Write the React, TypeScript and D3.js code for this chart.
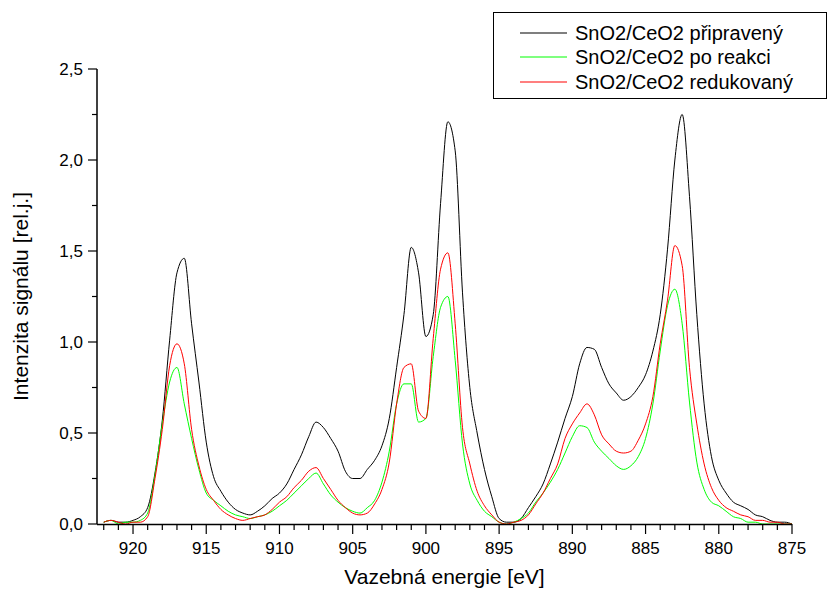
import React from 'react';
import * as d3 from 'd3';

// binding energy grid, 922 -> 875 eV in 0.5 eV steps
const energies: number[] = d3.range(0, 95).map(i => 922 - i * 0.5);

const pripraveny = [
  0.01, 0.02, 0.01, 0.01, 0.02, 0.04, 0.09, 0.28, 0.57, 1.01,
  1.38, 1.46, 1.10, 0.78, 0.45, 0.26, 0.18, 0.12, 0.08, 0.06,
  0.05, 0.07, 0.10, 0.14, 0.17, 0.22, 0.30, 0.38, 0.48, 0.56,
  0.53, 0.47, 0.40, 0.29, 0.25, 0.25, 0.30, 0.35, 0.43, 0.58,
  0.86, 1.15, 1.52, 1.38, 1.03, 1.15, 1.76, 2.21, 2.05, 1.27,
  0.75, 0.50, 0.30, 0.15, 0.03, 0.01, 0.01, 0.03, 0.09, 0.15,
  0.22, 0.33, 0.45, 0.58, 0.70, 0.88, 0.97, 0.96, 0.86, 0.77,
  0.72, 0.68, 0.70, 0.75, 0.82, 0.95, 1.15, 1.51, 2.00, 2.25,
  1.80, 1.15, 0.66, 0.37, 0.24, 0.17, 0.12, 0.10, 0.08, 0.05,
  0.04, 0.02, 0.01, 0.01, 0.00,
];

const poReakci = [
  0.01, 0.02, 0.00, 0.01, 0.01, 0.02, 0.06, 0.27, 0.55, 0.78,
  0.86, 0.66, 0.47, 0.30, 0.17, 0.13, 0.10, 0.07, 0.05, 0.04,
  0.03, 0.04, 0.05, 0.07, 0.10, 0.13, 0.17, 0.21, 0.25, 0.28,
  0.22, 0.16, 0.12, 0.09, 0.07, 0.06, 0.09, 0.13, 0.23, 0.40,
  0.66, 0.77, 0.77, 0.56, 0.58, 0.92, 1.19, 1.25, 0.90, 0.44,
  0.22, 0.13, 0.07, 0.04, 0.01, 0.00, 0.01, 0.03, 0.06, 0.12,
  0.17, 0.23, 0.30, 0.39, 0.48, 0.54, 0.53, 0.45, 0.40, 0.36,
  0.32, 0.30, 0.32, 0.37, 0.47, 0.66, 0.95, 1.20, 1.29, 1.10,
  0.67, 0.34, 0.19, 0.12, 0.10, 0.07, 0.04, 0.03, 0.01, 0.01,
  0.00, 0.00, 0.00, 0.00, 0.00,
];

const redukovany = [
  0.01, 0.02, 0.01, 0.00, 0.01, 0.01, 0.04, 0.25, 0.52, 0.87,
  0.99, 0.88, 0.52, 0.32, 0.19, 0.13, 0.08, 0.05, 0.03, 0.02,
  0.03, 0.04, 0.05, 0.08, 0.12, 0.15, 0.20, 0.24, 0.29, 0.31,
  0.25, 0.19, 0.13, 0.09, 0.06, 0.05, 0.06, 0.11, 0.19, 0.34,
  0.66, 0.86, 0.88, 0.62, 0.58, 1.02, 1.40, 1.49, 1.10, 0.53,
  0.33, 0.18, 0.10, 0.05, 0.01, 0.00, 0.01, 0.02, 0.05, 0.11,
  0.17, 0.25, 0.33, 0.47, 0.55, 0.61, 0.66, 0.60, 0.49, 0.44,
  0.40, 0.39, 0.40, 0.46, 0.55, 0.70, 0.99, 1.23, 1.53, 1.42,
  0.86, 0.55, 0.33, 0.20, 0.13, 0.09, 0.07, 0.05, 0.04, 0.02,
  0.02, 0.01, 0.01, 0.00, 0.00,
];

const seriesNames = ['SnO2/CeO2 připravený', 'SnO2/CeO2 po reakci', 'SnO2/CeO2 redukovaný'];
const seriesColors = ['#000000', '#00ff00', '#ff0000'];
const xMajorTicks = [920, 915, 910, 905, 900, 895, 890, 885, 880, 875];
const yMajorTicks = [0, 0.5, 1.0, 1.5, 2.0, 2.5];

const W = 832;
const H = 592;
const FONT = '"Liberation Sans", Arial, sans-serif';

const App = () => {
  const x = d3.scaleLinear().domain([922.46, 875]).range([97, 792]);
  const y = d3.scaleLinear().domain([0, 2.5]).range([524, 69]);

  const xMinor = d3.range(922, 874.5, -1).filter(v => !xMajorTicks.includes(v));
  const yMinor = [0.25, 0.75, 1.25, 1.75, 2.25];
  const fmt = (v: number) => d3.format('.1f')(v).replace('.', ',');

  const line = d3.line<number>()
    .x((_, i) => x(energies[i]))
    .y(d => y(Math.max(0, d)))
    .curve(d3.curveMonotoneX);

  // draw order: black, green, red on top
  const series = [pripraveny, poReakci, redukovany];

  const legendRows = [33, 57, 82];

  return (
    <svg width={W} height={H} style={{ position: 'absolute', left: 0, top: 0, background: '#fff' }}
      fontFamily={FONT}>
      {series.map((s, i) => (
        <path key={i} d={line(s) || ''} fill="none" stroke={seriesColors[i]} strokeWidth={1} />
      ))}

      {/* y axis */}
      <line x1={97} x2={97} y1={y(2.5)} y2={y(0)} stroke="#000" strokeWidth={1.5} />
      {yMajorTicks.map(t => (
        <g key={t}>
          <line x1={88} x2={97} y1={y(t)} y2={y(t)} stroke="#000" strokeWidth={1.2} />
          <text x={83} y={y(t)} dy="0.35em" textAnchor="end" fontSize={17}>{fmt(t)}</text>
        </g>
      ))}
      {yMinor.map(t => (
        <line key={t} x1={92} x2={97} y1={y(t)} y2={y(t)} stroke="#000" strokeWidth={1.2} />
      ))}

      {/* x axis */}
      <line x1={97} x2={792} y1={524.5} y2={524.5} stroke="#000" strokeWidth={1.5} />
      {xMajorTicks.map(t => (
        <g key={t}>
          <line x1={x(t)} x2={x(t)} y1={524} y2={534} stroke="#000" strokeWidth={1.2} />
          <text x={x(t)} y={554} textAnchor="middle" fontSize={17}>{t}</text>
        </g>
      ))}
      {xMinor.map(t => (
        <line key={t} x1={x(t)} x2={x(t)} y1={524} y2={530} stroke="#000" strokeWidth={1.2} />
      ))}

      <text x={(97 + 792) / 2} y={584} textAnchor="middle" fontSize={21}>Vazebná energie [eV]</text>
      <text transform={`translate(28,${(69 + 524) / 2}) rotate(-90)`} textAnchor="middle" fontSize={21}>
        Intenzita signálu [rel.j.]
      </text>

      {/* legend */}
      <rect x={493.5} y={12.5} width={333} height={86} fill="#fff" stroke="#000" strokeWidth={1} />
      {seriesNames.map((n, i) => (
        <g key={n}>
          <line x1={520} x2={567} y1={legendRows[i]} y2={legendRows[i]} stroke={seriesColors[i]} strokeWidth={1.2} />
          <text x={575} y={legendRows[i]} dy="0.35em" fontSize={20}>{n}</text>
        </g>
      ))}
    </svg>
  );
};

export default App;
